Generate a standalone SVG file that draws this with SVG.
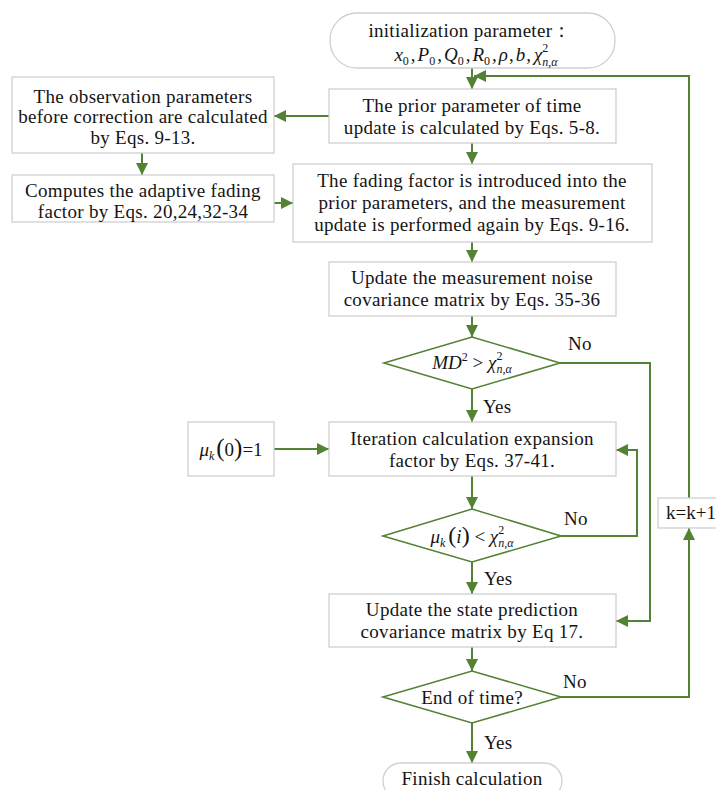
<svg xmlns="http://www.w3.org/2000/svg" width="716" height="790" viewBox="0 0 716 790">
<defs>
<style>
.box{fill:#fff;stroke:#d0d0d0;stroke-width:1.3}
.dia{fill:#fff;stroke:#548235;stroke-width:1.6}
.ln{fill:none;stroke:#548235;stroke-width:2}
.t{font-family:"Liberation Serif","Times New Roman",serif;font-size:19px;letter-spacing:0.3px;fill:#141414;text-anchor:middle}
.m{font-family:"Liberation Serif","Times New Roman",serif;font-size:19px;fill:#141414;text-anchor:middle}
.i{font-style:italic}
.sub{font-size:12px}
</style>
<marker id="ah" markerUnits="userSpaceOnUse" markerWidth="12" markerHeight="12" viewBox="0 0 12 12" refX="12" refY="6" orient="auto">
<path d="M0,0 L12,6 L0,12 z" fill="#548235"/>
</marker>
</defs>
<rect width="716" height="790" fill="#fff"/>

<g id="connectors">
<path class="ln" d="M472,68 V89" marker-end="url(#ah)"/>
<path class="ln" d="M561,697 H689 V528" marker-end="url(#ah)"/>
<path class="ln" d="M689,498 V76 H474" marker-end="url(#ah)"/>
<path class="ln" d="M329,116 H274" marker-end="url(#ah)"/>
<path class="ln" d="M142,153 V175" marker-end="url(#ah)"/>
<path class="ln" d="M274,203 H293" marker-end="url(#ah)"/>
<path class="ln" d="M472,143 V164" marker-end="url(#ah)"/>
<path class="ln" d="M472,242 V262" marker-end="url(#ah)"/>
<path class="ln" d="M472,316 V337" marker-end="url(#ah)"/>
<path class="ln" d="M472,389 V422" marker-end="url(#ah)"/>
<path class="ln" d="M560,363 H650 V621 H616" marker-end="url(#ah)"/>
<path class="ln" d="M274,449 H329" marker-end="url(#ah)"/>
<path class="ln" d="M472,476 V509" marker-end="url(#ah)"/>
<path class="ln" d="M561,536 H637 V450 H616" marker-end="url(#ah)"/>
<path class="ln" d="M472,562 V594" marker-end="url(#ah)"/>
<path class="ln" d="M472,647 V671" marker-end="url(#ah)"/>
<path class="ln" d="M472,723 V763" marker-end="url(#ah)"/>
<text class="t" x="568" y="350" style="text-anchor:start">No</text>
<text class="t" x="483" y="413" style="text-anchor:start">Yes</text>
<text class="t" x="564" y="525" style="text-anchor:start">No</text>
<text class="t" x="484" y="585" style="text-anchor:start">Yes</text>
<text class="t" x="563" y="688" style="text-anchor:start">No</text>
<text class="t" x="484" y="749" style="text-anchor:start">Yes</text>
</g>

<g id="start">
<rect x="330" y="13" width="285" height="55" rx="27" class="box"/>
<text class="t" x="470" y="37">initialization parameter：</text>
<text class="m" x="476" y="61"><tspan class="i">x</tspan><tspan class="sub" dy="4">0</tspan><tspan dy="-4" dx="2">,</tspan><tspan class="i" dx="2">P</tspan><tspan class="sub" dy="4">0</tspan><tspan dy="-4" dx="2">,</tspan><tspan class="i" dx="2">Q</tspan><tspan class="sub" dy="4">0</tspan><tspan dy="-4" dx="2">,</tspan><tspan class="i" dx="2">R</tspan><tspan class="sub" dy="4">0</tspan><tspan dy="-4" dx="2">,</tspan><tspan class="i" dx="2">ρ</tspan><tspan dx="1">,</tspan><tspan class="i" dx="2">b</tspan><tspan dx="1">,</tspan><tspan class="i" dx="3">χ</tspan><tspan class="sub" dy="-9">2</tspan><tspan class="sub i" dx="-6" dy="14">n,α</tspan></text>
</g>

<g id="prior">
<rect x="329" y="89" width="287" height="54" class="box"/>
<text class="t" x="472" y="112">The prior parameter of time</text>
<text class="t" x="472" y="134">update is calculated by Eqs. 5-8.</text>
</g>

<g id="observation">
<rect x="12" y="77" width="262" height="76" class="box"/>
<text class="t" x="143" y="103">The observation parameters</text>
<text class="t" x="143" y="123">before correction are calculated</text>
<text class="t" x="143" y="144">by Eqs. 9-13.</text>
</g>

<g id="adaptive">
<rect x="12" y="175" width="262" height="47" class="box"/>
<text class="t" x="143" y="197">Computes the adaptive fading</text>
<text class="t" x="143" y="218">factor by Eqs. 20,24,32-34</text>
</g>

<g id="fading">
<rect x="293" y="164" width="359" height="78" class="box"/>
<text class="t" x="472" y="187">The fading factor is introduced into the</text>
<text class="t" x="472" y="209">prior parameters, and the measurement</text>
<text class="t" x="472" y="231">update is performed again by Eqs. 9-16.</text>
</g>

<g id="noise">
<rect x="329" y="262" width="287" height="54" class="box"/>
<text class="t" x="472" y="284">Update the measurement noise</text>
<text class="t" x="472" y="306">covariance matrix by Eqs. 35-36</text>
</g>

<g id="decision1">
<polygon points="384,363 472,337 560,363 472,389" class="dia"/>
<text class="m" x="472" y="369"><tspan class="i">MD</tspan><tspan class="sub" dy="-8">2</tspan><tspan dy="8"> &gt; </tspan><tspan class="i">χ</tspan><tspan class="sub" dy="-9">2</tspan><tspan class="sub i" dx="-6" dy="13">n,α</tspan></text>
</g>

<g id="mu0">
<rect x="188" y="422" width="86" height="54" class="box"/>
<text class="m" x="231" y="456" font-size="20"><tspan class="i">μ</tspan><tspan class="sub i" dy="4">k</tspan><tspan dy="-4" dx="2" font-size="25">(</tspan><tspan>0</tspan><tspan font-size="25">)</tspan><tspan>=1</tspan></text>
</g>

<g id="iteration">
<rect x="329" y="422" width="287" height="54" class="box"/>
<text class="t" x="472" y="445">Iteration calculation expansion</text>
<text class="t" x="472" y="467">factor by Eqs. 37-41.</text>
</g>

<g id="decision2">
<polygon points="383,536 472,509 561,536 472,562" class="dia"/>
<text class="m" x="472" y="543"><tspan class="i">μ</tspan><tspan class="sub i" dy="4">k</tspan><tspan dy="-4" dx="3" font-size="24">(</tspan><tspan class="i">i</tspan><tspan font-size="24">)</tspan><tspan> &lt; </tspan><tspan class="i">χ</tspan><tspan class="sub" dy="-9">2</tspan><tspan class="sub i" dx="-6" dy="13">n,α</tspan></text>
</g>

<g id="k">
<rect x="658" y="498" width="64" height="30" class="box"/>
<text class="m" x="666" y="519" font-size="18" style="text-anchor:start">k=k+1</text>
</g>

<g id="state">
<rect x="329" y="594" width="287" height="53" class="box"/>
<text class="t" x="472" y="616">Update the state prediction</text>
<text class="t" x="472" y="638">covariance matrix by Eq 17.</text>
</g>

<g id="decision3">
<polygon points="383,697 472,671 561,697 472,723" class="dia"/>
<text class="t" x="472" y="704">End of time?</text>
</g>

<g id="finish">
<rect x="383" y="763" width="179" height="36" rx="18" class="box"/>
<text class="t" x="472" y="785">Finish calculation</text>
</g>
</svg>
